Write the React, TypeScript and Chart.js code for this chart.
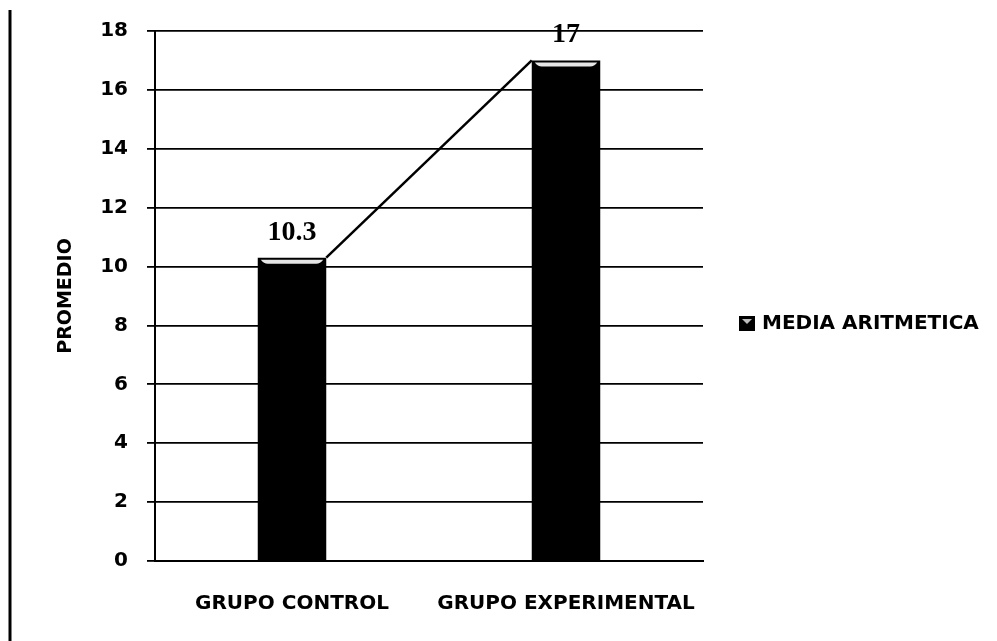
import React, { useEffect, useRef } from "react";
import { Chart, registerables } from "chart.js";

Chart.register(...registerables);

const categories = ["GRUPO CONTROL", "GRUPO EXPERIMENTAL"];
const mediaValues = [10.3, 17];
const seriesName = "MEDIA ARITMETICA";
const yTitle = "PROMEDIO";
const yMin = 0;
const yMax = 18;
const yStep = 2;

const SANS = "'DejaVu Sans', sans-serif";
const SERIF = "'Liberation Serif', 'Times New Roman', serif";

const decorPlugin = {
  id: "decor",
  beforeDraw(chart: any) {
    const { ctx, width, height } = chart;
    ctx.save();
    ctx.fillStyle = "#ffffff";
    ctx.fillRect(0, 0, width, height);
    ctx.restore();
  },
  afterDatasetsDraw(chart: any) {
    const { ctx } = chart;
    const meta = chart.getDatasetMeta(0);
    const bars = meta.data;
    ctx.save();
    // bevel highlight on bar tops
    bars.forEach((b: any) => {
      const l = b.x - b.width / 2;
      const r = b.x + b.width / 2;
      ctx.fillStyle = "#e6e6e6";
      ctx.beginPath();
      ctx.moveTo(l + 3, b.y + 2);
      ctx.lineTo(r - 3, b.y + 2);
      ctx.quadraticCurveTo(r - 6, b.y + 6, r - 10, b.y + 6);
      ctx.lineTo(l + 10, b.y + 6);
      ctx.quadraticCurveTo(l + 6, b.y + 6, l + 3, b.y + 2);
      ctx.closePath();
      ctx.fill();
    });
    // series line connecting bar tops
    for (let i = 0; i < bars.length - 1; i++) {
      const a = bars[i];
      const c = bars[i + 1];
      ctx.strokeStyle = "#000000";
      ctx.lineWidth = 2.5;
      ctx.beginPath();
      ctx.moveTo(a.x + a.width / 2, a.y);
      ctx.lineTo(c.x - c.width / 2, c.y);
      ctx.stroke();
    }
    // data labels
    ctx.fillStyle = "#000000";
    ctx.font = `bold 28px ${SERIF}`;
    ctx.textAlign = "center";
    ctx.textBaseline = "alphabetic";
    bars.forEach((b: any, i: number) => {
      ctx.fillText(String(chart.data.datasets[0].data[i]), b.x, b.y - 18);
    });
    ctx.restore();
  },
  afterDraw(chart: any) {
    const { ctx, chartArea } = chart;
    ctx.save();
    // left border line
    ctx.strokeStyle = "#000000";
    ctx.lineWidth = 3;
    ctx.beginPath();
    ctx.moveTo(10, 10);
    ctx.lineTo(10, chart.height);
    ctx.stroke();
    // legend
    const cy = (chartArea.top + chartArea.bottom) / 2 + 28;
    const sx = 739;
    ctx.fillStyle = "#000000";
    ctx.fillRect(sx, cy - 8, 16, 15);
    ctx.fillStyle = "#bdbdbd";
    ctx.beginPath();
    ctx.moveTo(sx + 3, cy - 5);
    ctx.lineTo(sx + 13, cy - 5);
    ctx.lineTo(sx + 8, cy);
    ctx.closePath();
    ctx.fill();
    ctx.fillStyle = "#000000";
    ctx.font = `bold 20px ${SANS}`;
    ctx.textAlign = "left";
    ctx.textBaseline = "middle";
    ctx.fillText(chart.data.datasets[0].label, 762, cy);
    ctx.restore();
  },
};

export default function App() {
  const ref = useRef<HTMLCanvasElement | null>(null);
  useEffect(() => {
    if (!ref.current) return;
    const chart = new Chart(ref.current, {
      type: "bar",
      data: {
        labels: categories,
        datasets: [
          {
            label: seriesName,
            data: mediaValues,
            backgroundColor: "#000000",
            borderWidth: 0,
            barPercentage: 0.25,
            categoryPercentage: 1,
          },
        ],
      },
      options: {
        responsive: false,
        animation: false,
        layout: { padding: { left: 0, right: 294, top: 29, bottom: 0 } },
        plugins: {
          legend: { display: false },
          tooltip: { enabled: false },
        },
        scales: {
          x: {
            grid: { display: false, drawTicks: false },
            border: { display: true, color: "#000000", width: 2 },
            ticks: {
              color: "#000000",
              font: { family: SANS, size: 20, weight: "bold" },
              padding: 31,
              maxRotation: 0,
            },
            afterFit: (s: any) => {
              s.height = 80;
            },
          },
          y: {
            min: yMin,
            max: yMax,
            grid: {
              color: "#000000",
              lineWidth: 1.8,
              drawTicks: true,
              tickLength: 8,
            },
            border: { display: true, color: "#000000", width: 2 },
            ticks: {
              stepSize: yStep,
              color: "#000000",
              font: { family: SANS, size: 20, weight: "bold" },
              padding: 19,
            },
            title: {
              display: true,
              text: yTitle,
              color: "#000000",
              font: { family: SANS, size: 19, weight: "bold" },
              padding: { top: 55, bottom: 0 },
            },
            afterFit: (s: any) => {
              s.width = 155;
            },
          },
        },
      },
      plugins: [decorPlugin],
    });
    return () => chart.destroy();
  }, []);
  return (
    <div style={{ position: "absolute", left: 0, top: 0, width: 997, height: 641 }}>
      <canvas ref={ref} width={997} height={641} style={{ display: "block" }} />
    </div>
  );
}
